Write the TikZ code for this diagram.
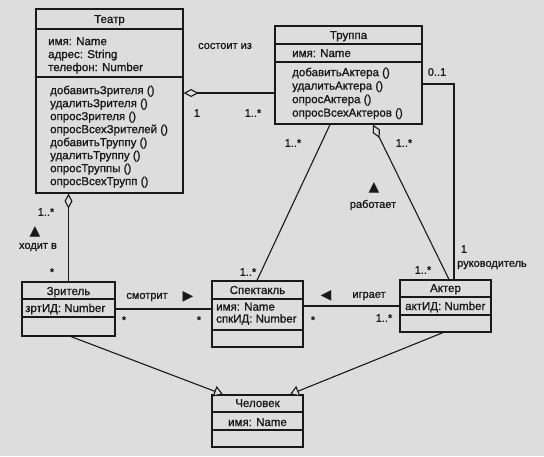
\documentclass[tikz,border=0pt]{standalone}
\usepackage{fontspec}
\setmainfont{Liberation Sans}[BoldFont={Liberation Sans},BoldFeatures={FakeBold=1.1}]
\newfontfamily\symfont{DejaVu Sans}
\usetikzlibrary{arrows.meta,calc}
\definecolor{bg}{RGB}{221,221,221}
\definecolor{ink}{RGB}{25,25,25}
\begin{document}
\begin{tikzpicture}[x=1pt,y=-1pt,
  cls/.style={draw=ink, line width=1.2pt, rectangle, inner sep=0pt},
  divline/.style={draw=ink, line width=1.2pt},
  txt/.style={inner sep=0pt, font=\bfseries\fontsize{11.5}{13}\selectfont, text=ink},
  txtb/.style={inner sep=0pt, font=\bfseries\fontsize{11.5}{13.5}\selectfont, text=ink},
  txtc/.style={inner sep=0pt, font=\bfseries\fontsize{11.5}{12}\selectfont, text=ink},
  lbl/.style={inner sep=0pt, font=\bfseries\fontsize{11}{13}\selectfont, text=ink},
  sym/.style={inner sep=0pt, font=\symfont\fontsize{14}{14}\selectfont, text=ink},
  conn/.style={draw=ink, line width=1.1pt},
  agg/.style={conn, {Diamond[open,length=15pt,width=8pt,fill=bg,line width=1.1pt]}-},
  gen/.style={conn, -{Triangle[open,length=9pt,width=11pt,fill=bg,line width=1.1pt]}}
]
\useasboundingbox (0,0) rectangle (544,456);
\fill[bg] (0,0) rectangle (544,456);

% ---------- classes ----------
\node[cls, minimum width=147pt, minimum height=184pt] (teatr) at (109.5,101) {};
\draw[divline] (teatr.west |- 0,29) -- (teatr.east |- 0,29);
\draw[divline] (teatr.west |- 0,77) -- (teatr.east |- 0,77);
\node[txt, anchor=base] (teatrT) at (109.5,23) {Театр};
\node[txt, anchor=north west, align=left] (teatrA) at (48,37) {имя: Name\\адрес: String\\телефон: Number};
\node[txt, anchor=north west, align=left] (teatrO) at (50,85.5) {добавитьЗрителя ()\\удалитьЗрителя ()\\опросЗрителя ()\\опросВсехЗрителей ()\\добавитьТруппу ()\\удалитьТруппу ()\\опросТруппы ()\\опросВсехТрупп ()};

\node[cls, minimum width=147pt, minimum height=98pt] (trupa) at (348.5,75) {};
\draw[divline] (trupa.west |- 0,44) -- (trupa.east |- 0,44);
\draw[divline] (trupa.west |- 0,62) -- (trupa.east |- 0,62);
\node[txt, anchor=base] (trupaT) at (348.5,39) {Труппа};
\node[txt, anchor=base west] (trupaA) at (292,57) {имя: Name};
\node[txtb, anchor=north west, align=left] (trupaO) at (292,67.5) {добавитьАктера ()\\удалитьАктера ()\\опросАктера ()\\опросВсехАктеров ()};

\node[cls, minimum width=93pt, minimum height=54pt] (zritel) at (68.5,309) {};
\draw[divline] (zritel.west |- 0,299) -- (zritel.east |- 0,299);
\draw[divline] (zritel.west |- 0,317) -- (zritel.east |- 0,317);
\node[txt, anchor=base] (zritelT) at (68.5,295) {Зритель};
\node[txt, anchor=base west] (zritelA) at (25,312) {зртИД: Number};

\node[cls, minimum width=91pt, minimum height=66pt] (spekt) at (257.5,314) {};
\draw[divline] (spekt.west |- 0,299) -- (spekt.east |- 0,299);
\draw[divline] (spekt.west |- 0,330) -- (spekt.east |- 0,330);
\node[txt, anchor=base] (spektT) at (257.5,294) {Спектакль};
\node[txtc, anchor=north west, align=left] (spektA) at (216,302.5) {имя: Name\\спкИД: Number};

\node[cls, minimum width=91pt, minimum height=52pt] (akter) at (445.5,306) {};
\draw[divline] (akter.west |- 0,297) -- (akter.east |- 0,297);
\draw[divline] (akter.west |- 0,315) -- (akter.east |- 0,315);
\node[txt, anchor=base] (akterT) at (445.5,292) {Актер};
\node[txt, anchor=base west] (akterA) at (405,310) {актИД: Number};

\node[cls, minimum width=91pt, minimum height=52pt] (chel) at (257.5,421) {};
\draw[divline] (chel.west |- 0,412) -- (chel.east |- 0,412);
\draw[divline] (chel.west |- 0,430) -- (chel.east |- 0,430);
\node[txt, anchor=base] (chelT) at (257.5,407) {Человек};
\node[txt, anchor=base] (chelA) at (257.5,426) {имя: Name};

% ---------- connectors ----------
\coordinate (aggA) at ([yshift=8pt]teatr.east);
\draw[agg] (aggA) -- (aggA -| trupa.west);

\draw[agg] (zritel.north |- teatr.south) -- (zritel.north);

\draw[conn] ([xshift=-18.5pt]trupa.south) -- ([xshift=-0.5pt]spekt.north);
\draw[agg] ([xshift=24.5pt]trupa.south) -- ([xshift=3.5pt]akter.north);

\coordinate (rukEnd) at ([xshift=8.5pt]akter.north);
\draw[conn] ([yshift=-9pt]trupa.east) -| (rukEnd);

\draw[conn] (zritel.east) -- (zritel.east -| spekt.west);
\draw[conn] (akter.west) -- (akter.west -| spekt.east);

\draw[gen] ([xshift=2.5pt]zritel.south) -- ([xshift=-34.5pt]chel.north);
\draw[gen] ([xshift=-2.5pt]akter.south) -- ([xshift=32.5pt]chel.north);

% ---------- labels ----------
\node[lbl] (l1) at (225,46) {состоит из};
\node[lbl] (l2) at (197,113) {1};
\node[lbl] (l3) at (253,113) {1..*};
\node[lbl] (l4) at (46,212) {1..*};
\node[sym] (l5) at (35,232) {▲};
\node[lbl] (l6) at (38,247) {ходит в};
\node[lbl] (l7) at (52,272) {*};
\node[lbl] (l8) at (147,297) {смотрит};
\node[sym] (l9) at (188,297) {▶};
\node[lbl] (l10) at (124,320) {*};
\node[lbl] (l11) at (199,320) {*};
\node[lbl] (l12) at (248,272) {1..*};
\node[lbl] (l13) at (293,143) {1..*};
\node[lbl] (l14) at (404,143) {1..*};
\node[sym] (l15) at (374,188) {▲};
\node[lbl] (l16) at (373,205) {работает};
\node[lbl] (l17) at (437,72) {0..1};
\node[lbl] (l18) at (464,249) {1};
\node[lbl] (l19) at (492,265) {руководитель};
\node[lbl] (l20) at (423,270) {1..*};
\node[sym] (l21) at (326,296) {◀};
\node[lbl] (l22) at (369,296) {играет};
\node[lbl] (l23) at (313,320) {*};
\node[lbl] (l24) at (384,318) {1..*};
\end{tikzpicture}
\end{document}
